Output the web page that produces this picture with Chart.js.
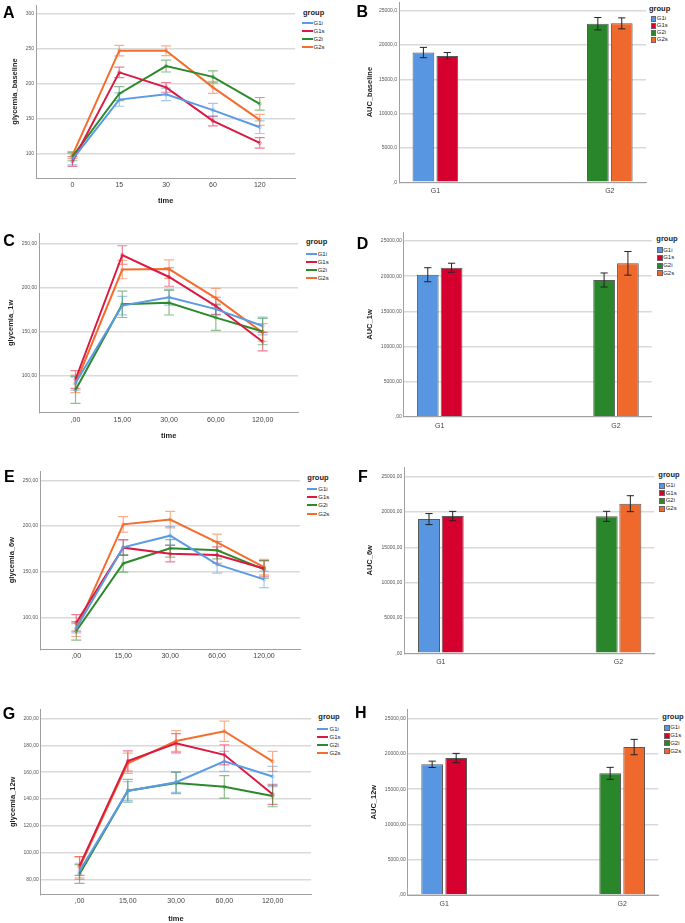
<!DOCTYPE html>
<html><head><meta charset="utf-8">
<script src="https://cdn.jsdelivr.net/npm/chart.js@4"></script>
<style>
body{margin:0;background:#fff;width:685px;height:923px;position:relative;overflow:hidden;font-family:"Liberation Sans",Arial,sans-serif}
canvas{position:absolute}
.t{position:absolute;white-space:nowrap;line-height:1;transform:translateY(-50%);color:#222}
.letter{position:absolute;font-weight:bold;font-size:16px;line-height:16px;color:#000}
.mk{position:absolute}
</style></head><body>
<script>
// ---------------- DATA ----------------
const GROUPS = ['G1i', 'G1s', 'G2i', 'G2s'];

// time-course x tick labels
const A_xLabels = ['0', '15', '30', '60', '120'];
const CEG_xLabels = [',00', '15,00', '30,00', '60,00', '120,00'];

// Panel A: glycemia_baseline (mean, ± error)
const A_yTicks = [100, 150, 200, 250, 300];
const A_yLabels = ['100', '150', '200', '250', '300'];
const A_G1i = [92, 177.5, 185, 162.5, 138];
const A_G1i_err = [8, 9.5, 9, 9.5, 9];
const A_G1s = [89, 216.5, 195, 147, 115.5];
const A_G1s_err = [7, 7.5, 7, 7, 7.5];
const A_G2i = [96, 186, 225.5, 210, 171.5];
const A_G2i_err = [6, 10, 8.5, 8.5, 9];
const A_G2s = [98, 247.5, 247.5, 195, 148.5];
const A_G2s_err = [5, 7.5, 7, 8.5, 8];

// Panel C: glycemia_1w
const C_yTicks = [100, 150, 200, 250];
const C_yLabels = ['100,00', '150,00', '200,00', '250,00'];
const C_G1i = [92, 180, 189.5, 176, 156.8];
const C_G1i_err = [8, 10.5, 9, 6, 10];
const C_G1s = [96, 237.5, 212.5, 179.5, 139];
const C_G1s_err = [10, 10.5, 10.5, 10, 10.5];
const C_G2i = [84, 181.5, 183.3, 166.3, 150.5];
const C_G2i_err = [15, 15, 14, 14.5, 15];
const C_G2s = [91, 221, 221.5, 188.5, 149.5];
const C_G2s_err = [10, 10.5, 10.5, 11, 10];

// Panel E: glycemia_6w
const E_yTicks = [100, 150, 200, 250];
const E_yLabels = ['100,00', '150,00', '200,00', '250,00'];
const E_G1i = [88, 176.6, 189.4, 158, 141.6];
const E_G1i_err = [5, 8.5, 10, 9.5, 9];
const E_G1s = [94, 176.3, 169.7, 168.2, 153.5];
const E_G1s_err = [9, 8.5, 9, 9, 8.5];
const E_G2i = [85, 159, 175.5, 173.4, 152.5];
const E_G2i_err = [10, 9.5, 9.5, 9.5, 9.5];
const E_G2s = [87, 201.8, 207, 182, 155];
const E_G2s_err = [8, 8.5, 9, 9, 8.5];

// Panel G: glycemia_12w
const G_yTicks = [80, 100, 120, 140, 160, 180, 200];
const G_yLabels = ['80,00', '100,00', '120,00', '140,00', '160,00', '180,00', '200,00'];
const G_G1i = [86, 146, 152.5, 168.1, 156.8];
const G_G1i_err = [6, 7, 7.5, 7.5, 7.5];
const G_G1s = [90, 168.4, 181.6, 173, 143.5];
const G_G1s_err = [7, 7.5, 7.2, 7.5, 7.5];
const G_G2i = [84, 146.2, 152, 149.1, 142.2];
const G_G2i_err = [7, 8.5, 8, 8.4, 8];
const G_G2s = [89, 166.7, 183.3, 190.6, 168.1];
const G_G2s_err = [8, 7.5, 7.8, 7.5, 7.5];

// AUC bar panels: order G1i, G1s, G2i, G2s
const BAR_CATS = ['G1', 'G2'];
const BAR_GROUP_OF = [0, 0, 1, 1];
const AUC_yTicks = [0, 5000, 10000, 15000, 20000, 25000];
const B_yLabels = [',0', '5000,0', '10000,0', '15000,0', '20000,0', '25000,0'];
const DFH_yLabels = [',00', '5000,00', '10000,00', '15000,00', '20000,00', '25000,00'];
const B_auc = [18900, 18400, 23100, 23150];
const B_err = [750, 500, 900, 800];
const D_auc = [20200, 21200, 19450, 21820];
const D_err = [1000, 640, 1000, 1680];
const F_auc = [19000, 19430, 19390, 21180];
const F_err = [780, 660, 710, 1130];
const H_auc = [18530, 19420, 17250, 20980];
const H_err = [450, 660, 850, 1090];

// ---------------- STYLE ----------------
const FONT = '"Liberation Sans", Arial, sans-serif';
const LINE_COLORS = ['#5b9be6', '#da1a42', '#2c8a2c', '#f46d2c'];
const ERR_COLORS = ['rgba(91,155,230,0.55)', 'rgba(218,26,66,0.55)', 'rgba(44,138,44,0.55)', 'rgba(244,109,44,0.55)'];
const BAR_COLORS = ['#5896e2', '#d6002f', '#2a862a', '#f0692c'];

const errorBars = {
  id: 'errorBars',
  beforeDatasetsDraw(chart, args, o) { if (o.under) drawErr(chart, o); },
  afterDatasetsDraw(chart, args, o) { if (!o.under) drawErr(chart, o); }
};
function drawErr(chart, o) {
  const ctx = chart.ctx, ys = chart.scales.y;
  chart.data.datasets.forEach((ds, di) => {
    if (!ds.errLow) return;
    const meta = chart.getDatasetMeta(di);
    meta.data.forEach((el, i) => {
      const lo = ds.errLow[i], hi = ds.errHigh[i];
      if (lo == null || hi == null) return;
      const x = el.x, y1 = ys.getPixelForValue(lo), y2 = ys.getPixelForValue(hi);
      ctx.save();
      ctx.strokeStyle = o.color || ds.errColor;
      ctx.lineWidth = o.width;
      ctx.beginPath();
      ctx.moveTo(x, y1); ctx.lineTo(x, y2);
      ctx.moveTo(x - o.cap, y1); ctx.lineTo(x + o.cap, y1);
      ctx.moveTo(x - o.cap, y2); ctx.lineTo(x + o.cap, y2);
      ctx.stroke();
      ctx.restore();
    });
  });
}

function addCanvas(x, y, w, h) {
  const c = document.createElement('canvas');
  c.width = w; c.height = h;
  c.style.left = x + 'px'; c.style.top = y + 'px';
  c.style.width = w + 'px'; c.style.height = h + 'px';
  document.body.appendChild(c);
  return c;
}
function addText(txt, x, y, size, bold) {
  const d = document.createElement('div');
  d.className = 't';
  d.textContent = txt;
  d.style.left = x + 'px'; d.style.top = y + 'px';
  d.style.fontSize = size + 'px';
  if (bold) d.style.fontWeight = 'bold';
  document.body.appendChild(d);
}
function addLetter(txt, x, capTop) {
  const d = document.createElement('div');
  d.className = 'letter';
  d.textContent = txt;
  d.style.left = x + 'px'; d.style.top = (capTop - 2) + 'px';
  document.body.appendChild(d);
}
function legend(s) {
  addText('group', s.tx, s.ty, 7.5, true);
  s.rows.forEach((y, k) => {
    const m = document.createElement('div');
    m.className = 'mk';
    if (s.kind === 'line') {
      m.style.left = s.mx + 'px'; m.style.top = (y - 1) + 'px';
      m.style.width = s.mw + 'px'; m.style.height = '2px';
      m.style.background = LINE_COLORS[k];
    } else {
      m.style.left = s.mx + 'px'; m.style.top = (y - 2.5) + 'px';
      m.style.width = (s.mw - 1) + 'px'; m.style.height = '4px';
      m.style.background = BAR_COLORS[k];
      m.style.border = '0.5px solid #666';
    }
    document.body.appendChild(m);
    addText(GROUPS[k], s.lx, y, 6, false);
  });
}

function commonY(p, yLabels, yTicks) {
  return {
    type: 'linear', min: p.ymin, max: p.ymax,
    afterBuildTicks: s => { s.ticks = yTicks.map(v => ({ value: v })); },
    ticks: { padding: 2, color: '#555', font: { size: 5, family: FONT }, callback: (v, i) => yLabels[i] },
    grid: { color: '#d9d9d9', lineWidth: 1.5, drawTicks: false },
    border: { display: true, color: '#a0a0a0', width: 1 },
    title: { display: true, text: p.yTitle, color: '#222', font: { size: 7.5, weight: 'bold', family: FONT }, padding: { top: p.yPad, bottom: 0 } },
    afterFit: s => { s.width = p.L - p.cx; s.paddingTop = 0; s.paddingBottom = 0; }
  };
}
function commonX(p, labels, tickPad, tickSize) {
  return {
    type: 'linear', min: p.xmin, max: p.xmax, offset: false,
    afterBuildTicks: s => { s.ticks = labels.map((_, i) => ({ value: i })); },
    ticks: { autoSkip: false, maxRotation: 0, padding: tickPad, color: '#444', font: { size: tickSize, family: FONT }, callback: (v, i) => labels[i] },
    grid: { display: false, drawTicks: false, offset: false },
    border: { display: true, color: '#a0a0a0', width: 1 },
    title: { display: !!p.xTitle, text: p.xTitle || '', color: '#222', font: { size: 7.5, weight: 'bold', family: FONT }, padding: { top: 0, bottom: p.xPad || 0 } },
    afterFit: s => { s.height = p.cy + p.ch - p.B; s.paddingLeft = 0; s.paddingRight = 0; }
  };
}

function linePanel(p, xLabels, yTicks, yLabels, series, errs) {
  const cv = addCanvas(p.cx, p.cy, p.cw, p.ch);
  new Chart(cv, {
    type: 'line',
    data: {
      datasets: GROUPS.map((g, k) => ({
        label: g,
        data: series[k].map((v, i) => ({ x: i, y: v })),
        errLow: series[k].map((v, i) => v - errs[k][i]),
        errHigh: series[k].map((v, i) => v + errs[k][i]),
        errColor: ERR_COLORS[k],
        borderColor: LINE_COLORS[k], borderWidth: 2, tension: 0,
        pointRadius: 1.6, pointBorderWidth: 0.8,
        pointBackgroundColor: 'rgba(255,255,255,0)', pointBorderColor: ERR_COLORS[k]
      }))
    },
    options: {
      responsive: false, animation: false, devicePixelRatio: 1,
      layout: { padding: { left: 0, top: p.T - p.cy, right: p.cx + p.cw - p.R, bottom: 0 } },
      plugins: { legend: { display: false }, tooltip: { enabled: false }, errorBars: { under: true, cap: 5, width: 1.2 } },
      scales: { x: commonX(p, xLabels, 3, 7), y: commonY(p, yLabels, yTicks) }
    },
    plugins: [errorBars]
  });
}

function barPanel(p, yLabels, vals, errs) {
  const cv = addCanvas(p.cx, p.cy, p.cw, p.ch);
  new Chart(cv, {
    type: 'bar',
    data: {
      datasets: GROUPS.map((g, k) => ({
        label: g,
        data: BAR_CATS.map((c, j) => ({ x: j, y: BAR_GROUP_OF[k] === j ? vals[k] : null })),
        errLow: BAR_CATS.map((c, j) => BAR_GROUP_OF[k] === j ? vals[k] - errs[k] : null),
        errHigh: BAR_CATS.map((c, j) => BAR_GROUP_OF[k] === j ? vals[k] + errs[k] : null),
        backgroundColor: BAR_COLORS[k], borderColor: '#5a5a5a', borderWidth: 1,
        categoryPercentage: p.cat, barPercentage: p.bar
      }))
    },
    options: {
      responsive: false, animation: false, devicePixelRatio: 1, skipNull: true,
      layout: { padding: { left: 0, top: p.T - p.cy, right: p.cx + p.cw - p.R, bottom: 0 } },
      plugins: { legend: { display: false }, tooltip: { enabled: false }, errorBars: { under: false, cap: 3.6, width: 1, color: '#222' } },
      scales: { x: commonX(p, BAR_CATS, 5, 7), y: commonY(p, yLabels, AUC_yTicks) }
    },
    plugins: [errorBars]
  });
}

// ---------------- PANELS ----------------
linePanel({ cx: 0, cy: 0, cw: 300, ch: 210, L: 36, T: 5, R: 299, B: 178, ymin: 65.3, ymax: 312.9, xmin: -0.779, xmax: 4.758, yTitle: 'glycemia_baseline', yPad: 10.5, xTitle: 'time', xPad: 4.5 },
  A_xLabels, A_yTicks, A_yLabels, [A_G1i, A_G1s, A_G2i, A_G2s], [A_G1i_err, A_G1s_err, A_G2i_err, A_G2s_err]);
linePanel({ cx: 0, cy: 225, cw: 303, ch: 220, L: 39, T: 233, R: 301.7, B: 412.7, ymin: 58.3, ymax: 262.5, xmin: -0.78, xmax: 4.76, yTitle: 'glycemia_1w', yPad: 6.7, xTitle: 'time', xPad: 4.8 },
  CEG_xLabels, C_yTicks, C_yLabels, [C_G1i, C_G1s, C_G2i, C_G2s], [C_G1i_err, C_G1s_err, C_G2i_err, C_G2s_err]);
linePanel({ cx: 0, cy: 445, cw: 305, ch: 225, L: 40, T: 471, R: 303.3, B: 649.3, ymin: 65, ymax: 260.2, xmin: -0.773, xmax: 4.77, yTitle: 'glycemia_6w', yPad: 7.2 },
  CEG_xLabels, E_yTicks, E_yLabels, [E_G1i, E_G1s, E_G2i, E_G2s], [E_G1i_err, E_G1s_err, E_G2i_err, E_G2s_err]);
linePanel({ cx: 0, cy: 700, cw: 316, ch: 223, L: 40.7, T: 709.3, R: 314.3, B: 894.3, ymin: 68.8, ymax: 207, xmin: -0.805, xmax: 4.8, yTitle: 'glycemia_12w', yPad: 8.2, xTitle: 'time', xPad: 0 },
  CEG_xLabels, G_yTicks, G_yLabels, [G_G1i, G_G1s, G_G2i, G_G2s], [G_G1i_err, G_G1s_err, G_G2i_err, G_G2s_err]);

barPanel({ cx: 345, cy: 0, cw: 303, ch: 200, L: 399, T: 2, R: 646, B: 182.3, ymin: 0, ymax: 26260, xmin: -0.2084, xmax: 1.2075, yTitle: 'AUC_baseline', yPad: 20.2, cat: 0.274, bar: 0.908 },
  B_yLabels, B_auc, B_err);
barPanel({ cx: 345, cy: 225, cw: 309, ch: 210, L: 403.7, T: 232.3, R: 651.7, B: 416.7, ymin: 0, ymax: 26238, xmin: -0.204, xmax: 1.2024, yTitle: 'AUC_1w', yPad: 20.5, cat: 0.27, bar: 0.912 },
  DFH_yLabels, D_auc, D_err);
barPanel({ cx: 345, cy: 445, cw: 312, ch: 225, L: 404.3, T: 467.3, R: 654.3, B: 653.3, ymin: 0, ymax: 26331, xmin: -0.2057, xmax: 1.2015, yTitle: 'AUC_6w', yPad: 20.5, cat: 0.2668, bar: 0.928 },
  DFH_yLabels, F_auc, F_err);
barPanel({ cx: 345, cy: 700, cw: 316, ch: 215, L: 407.7, T: 709.3, R: 658.3, B: 895, ymin: 0, ymax: 26333, xmin: -0.2048, xmax: 1.203, yTitle: 'AUC_12w', yPad: 24.5, cat: 0.2697, bar: 0.904 },
  DFH_yLabels, H_auc, H_err);

// ---------------- LEGENDS & LETTERS ----------------
legend({ kind: 'line', tx: 303, ty: 13, rows: [23.3, 31.3, 39, 47], mx: 302, mw: 10.5, lx: 313.5 });
legend({ kind: 'line', tx: 306, ty: 242.3, rows: [254, 261.7, 270, 278.3], mx: 306, mw: 10.7, lx: 317.7 });
legend({ kind: 'line', tx: 307.3, ty: 478.3, rows: [489.3, 497.3, 505.3, 514], mx: 306.7, mw: 10.6, lx: 318.3 });
legend({ kind: 'line', tx: 318.3, ty: 717.3, rows: [729, 737, 745, 753], mx: 316.7, mw: 11.6, lx: 329.5 });
legend({ kind: 'box', tx: 649, ty: 9, rows: [18.3, 25, 32, 39], mx: 650.7, mw: 4.7, lx: 656.8 });
legend({ kind: 'box', tx: 656.3, ty: 239.3, rows: [249.7, 257, 265, 272.7], mx: 657.3, mw: 4.7, lx: 663.2 });
legend({ kind: 'box', tx: 658.3, ty: 475, rows: [485, 492.7, 500.3, 508.3], mx: 659.3, mw: 5, lx: 665.7 });
legend({ kind: 'box', tx: 662.3, ty: 716.7, rows: [727.3, 735.3, 742.7, 750.7], mx: 664, mw: 5, lx: 670.2 });

addLetter('A', 3, 7);
addLetter('B', 356.5, 5.7);
addLetter('C', 3.3, 235);
addLetter('D', 356.7, 238.3);
addLetter('E', 4, 471);
addLetter('F', 358, 471);
addLetter('G', 2.7, 708.3);
addLetter('H', 355, 706.7);
</script>
</body></html>
